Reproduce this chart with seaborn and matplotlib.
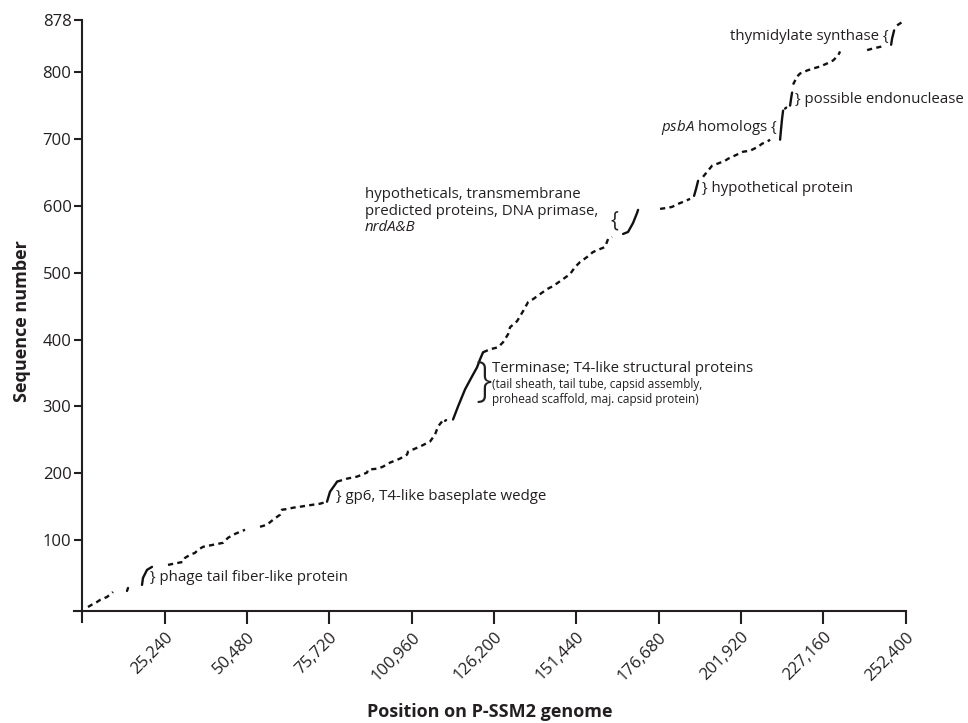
import numpy as np
import pandas as pd
import matplotlib
matplotlib.use("Agg")
import matplotlib.pyplot as plt
import seaborn as sns

# ---- data (genome position, sequence number, stroke id) ----
pos = [1687, 3220, 4447, 5367, 7514, 9048, 9354,
       13648, 13955,
       18249, 18555, 19782, 21316,
       26223, 27756, 29290, 30823, 31437, 32970, 34504, 35424, 36957, 40024, 43091, 44625, 46158, 48305, 49839,
       54439, 56586, 58426, 60573, 61187, 62720, 64560, 66707, 70694, 72841, 74988,
       74988, 75908, 77442, 78055,
       78055, 81122, 84189, 87256, 87563, 90630, 92163, 94310, 97377, 99524, 99831, 103511, 106578, 108112, 109032, 110257,
       111179, 111500,
       113632, 115166, 117312, 119459, 120993, 121913, 122833,
       122833, 124980, 127434, 128967, 130500, 131114, 133260, 135101, 136634, 138168, 140315, 142461, 144305,
       147372, 149519, 151048, 152582, 154731, 156571, 158717, 160251, 161171, 162395,
       165771, 167305, 168838, 170065, 170372,
       177118, 179263, 180797, 182637, 184173, 186317,
       187547, 188160, 188774,
       190307, 191534, 193067, 197058, 197972, 202572, 204722, 207176, 208400, 209934, 210856,
       213923, 214228, 214533, 214843,
       215448, 215800,
       216990, 217297, 217602,
       217908, 219134, 220055, 222203, 224044, 226189, 228335, 230177, 231714, 232322,
       240606, 242443, 245208, 246128,
       247971, 248275, 248888,
       249808, 251647, 252200]
seq = [0, 4.5, 7.5, 10.5, 15, 21, 22.5,
       24, 28.5,
       33, 43.5, 55.5, 60,
       63, 64.5, 66, 67.5, 73.5, 78, 81, 85.5, 90, 93, 96, 103.5, 108, 112.5, 115.5,
       120, 123, 130.5, 138, 145.5, 146.5, 148.5, 150, 153, 154.5, 157.5,
       157.5, 172.5, 183, 187.5,
       187.5, 192, 195, 201, 205.5, 207, 210, 216, 222, 228, 232.5, 240, 247.5, 258, 270, 277.5,
       278.5, 279.5,
       280.5, 300, 325.5, 345, 358.5, 370.5, 381,
       381, 385.5, 388.5, 396, 408, 418.5, 427.5, 442.5, 456, 460.5, 468, 475.5, 480,
       490.5, 498, 508.5, 516, 523.5, 531, 535.5, 538.5, 550.5, 553.5,
       558, 561, 574.5, 589.5, 594,
       595.5, 597, 598.5, 603, 606, 610.5,
       615, 625.5, 637.5,
       643.5, 651, 660, 667.5, 670.5, 681, 682.5, 688.5, 693, 696, 699,
       699, 715.5, 730.5, 742.5,
       745.5, 747,
       750, 760.5, 769.5,
       781.5, 793.5, 798, 802.5, 805.5, 808.5, 813, 817.5, 825, 831,
       833, 835.5, 838.5, 840,
       841, 850.5, 862.5,
       870, 876, 878]
run_sizes = [7, 2, 4, 15, 11, 4, 16, 2, 7, 23, 5, 6, 3, 11, 4, 2, 3, 10, 4, 3, 3]
run_kind = ["dash", "solid", "solid", "dash", "dash", "solid", "dash", "solid", "solid", "dash",
            "solid", "dash", "solid", "dash", "solid", "solid", "solid", "dash", "dash", "solid", "dash"]

x_ticks = [25240, 50480, 75720, 100960, 126200, 151440, 176680, 201920, 227160, 252400]
y_ticks = [100, 200, 300, 400, 500, 600, 700, 800, 878]

run = np.repeat(np.arange(len(run_sizes)), run_sizes)
kind = np.repeat(run_kind, run_sizes)
df = pd.DataFrame({"pos": pos, "seq": seq, "run": run, "kind": kind})

sns.set_theme(style="ticks")
plt.rcParams["font.family"] = ["Open Sans", "DejaVu Sans"]
plt.rcParams["mathtext.fontset"] = "custom"
plt.rcParams["mathtext.it"] = "Open Sans:italic"
plt.rcParams["mathtext.rm"] = "Open Sans"

fig = plt.figure(figsize=(9.68, 7.23), dpi=100)
ax = fig.add_axes([0.0768, 0.1401, 0.8587, 0.8322])

sns.lineplot(data=df, x="pos", y="seq", units="run", estimator=None, sort=False,
             style="kind", dashes={"solid": "", "dash": (2.2, 1.8)},
             color="#111111", linewidth=1.7, legend=False, ax=ax)

ax.set_xlim(-2500, 252400)
ax.set_ylim(-22, 878)
for s in ["top", "right"]:
    ax.spines[s].set_visible(False)
ax.spines["bottom"].set_position(("data", -6))
ax.spines["left"].set_position(("data", 0))
for s in ["bottom", "left"]:
    ax.spines[s].set_linewidth(1.5)
    ax.spines[s].set_color("#231f20")

ax.set_xticks(x_ticks)
ax.set_xticklabels([f"{v:,}" for v in x_ticks], rotation=45, ha="right",
                   rotation_mode="anchor", fontsize=12)
ax.set_yticks(y_ticks)
ax.set_yticklabels([str(v) for v in y_ticks], fontsize=12)
ax.tick_params(axis="x", direction="out", length=9, width=1.5, pad=4, colors="#231f20")
ax.tick_params(axis="y", direction="out", length=6, width=1.5, pad=2, colors="#231f20")

ax.set_xlabel("Position on P-SSM2 genome", fontsize=13, fontweight="bold", labelpad=14,
              color="#231f20")
ax.set_ylabel("Sequence number", fontsize=13, fontweight="bold", labelpad=8, color="#231f20")

tc = "#231f20"
fs = 10.8
ax.text(20700, 43.5, "} phage tail fiber-like protein", fontsize=fs, va="center", color=tc)
ax.text(77750, 165, "} gp6, T4-like baseplate wedge", fontsize=fs, va="center", color=tc)
ax.text(120500, 335, "}", fontsize=34, va="center", ha="left", color=tc, fontweight="light")
ax.text(125500, 357, "Terminase; T4-like structural proteins", fontsize=fs, va="center", color=tc)
ax.text(125500, 333, "(tail sheath, tail tube, capsid assembly,", fontsize=8.5, va="center", color=tc)
ax.text(125500, 311, "prohead scaffold, maj. capsid protein)", fontsize=8.5, va="center", color=tc)
ax.text(86640, 617, "hypotheticals, transmembrane", fontsize=fs, va="center", color=tc)
ax.text(86640, 592, "predicted proteins, DNA primase,", fontsize=fs, va="center", color=tc)
ax.text(86640, 567, "nrdA&B", fontsize=fs, va="center", color=tc, style="italic")
ax.text(162000, 578, "{", fontsize=15, va="center", color=tc)
ax.text(190000, 626, "} hypothetical protein", fontsize=fs, va="center", color=tc)
ax.text(213300, 717, r"$\mathit{psbA}$ homologs {", fontsize=fs, va="center", ha="right", color=tc)
ax.text(218520, 759, "} possible endonuclease", fontsize=fs, va="center", color=tc)
ax.text(247350, 853, "thymidylate synthase {", fontsize=fs, va="center", ha="right", color=tc)

fig.savefig("out.png", dpi=100)
